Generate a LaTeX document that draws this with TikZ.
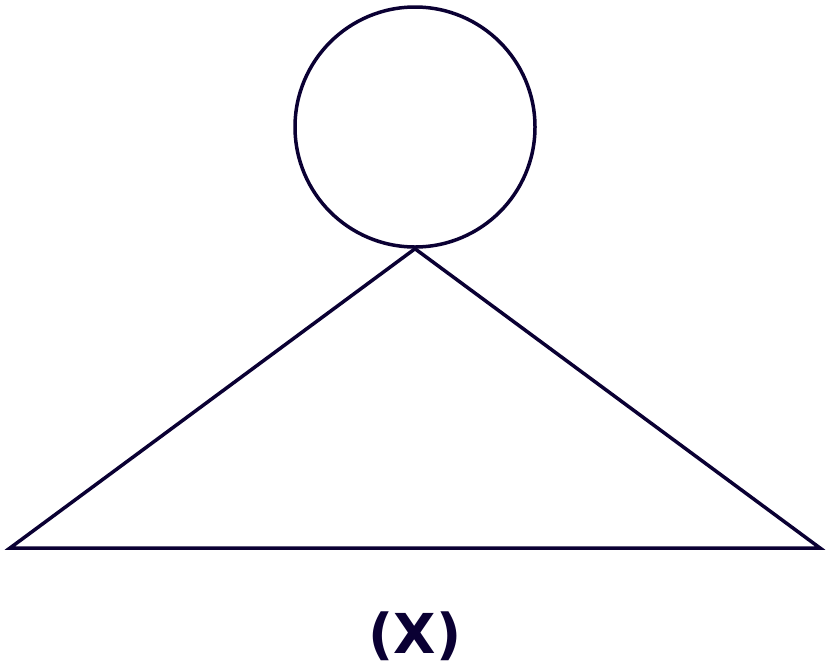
\documentclass[tikz,border=0pt]{standalone}
\usepackage{fontspec}
\newfontfamily\labelfont{DejaVu Sans}
\definecolor{navy}{RGB}{10,0,51}
\begin{document}
\begin{tikzpicture}[x=1pt,y=-1pt,line width=3.5pt,draw=navy]
            \useasboundingbox (0,0) rectangle (829,670);
            \node[draw,shape=circle,minimum size=240,inner sep=0pt] (head) at (415,127) {};
            \coordinate(l)at(10,548);\coordinate(r)at(820,548);
            \draw (head.south)--(l)--(r)--cycle;
            \node[text=navy,font=\labelfont\bfseries\fontsize{55}{60}\selectfont] (lbl) at (415,636) {(X)};
          \end{tikzpicture}
\end{document}
